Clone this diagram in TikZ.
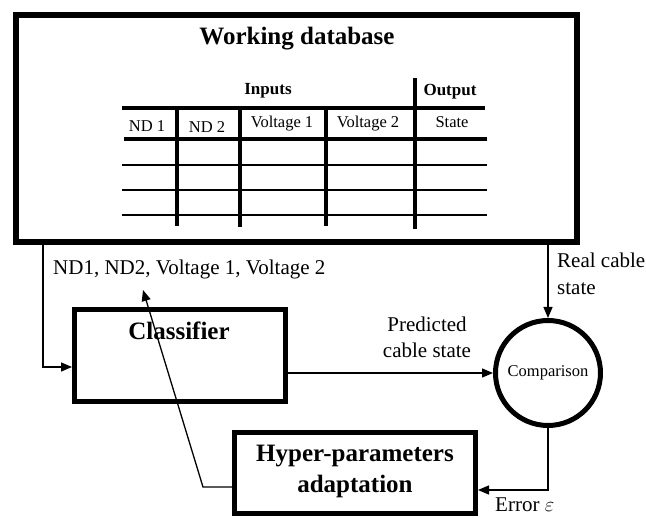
\documentclass[tikz,border=0pt]{standalone}
\usepackage{fontspec}
\setmainfont{Liberation Serif}
\usetikzlibrary{arrows.meta,shapes.geometric}
\tikzset{
  thickbox/.style={draw, line width=5pt, inner sep=0pt},
  conn/.style={line width=1.3pt, -{Triangle[length=11pt,width=9pt]}},
  tbig/.style={line width=4pt},
  tsmall/.style={line width=2.3pt},
  lbl/.style={inner sep=0pt, anchor=base, font=\fontsize{21}{25}\selectfont},
  lblw/.style={inner sep=0pt, anchor=base west, font=\fontsize{21}{25}\selectfont},
  cell/.style={inner sep=0pt, anchor=base, font=\fontsize{16.5}{19}\selectfont},
  head/.style={inner sep=0pt, anchor=base, font=\fontsize{17}{20}\selectfont\bfseries},
  title/.style={inner sep=0pt, anchor=base, font=\fontsize{25}{31}\selectfont\bfseries}
}
\begin{document}
\begin{tikzpicture}[x=1pt,y=-1pt]
\useasboundingbox (0,0) rectangle (646,518);
% boxes
\node[thickbox, line width=6pt, minimum width=561pt, minimum height=227pt] (db) at (296.5,128.5) {};
\node[title] (dbt) at (297,45) {Working database};
\node[thickbox, minimum width=211pt, minimum height=92pt] (cls) at (180,355.5) {};
\node[title] (clst) at (179,340) {Classifier};
\node[thickbox, minimum width=241pt, minimum height=81pt] (hyp) at (355,473) {};
\node[title] (hypt) at (355,462) {Hyper-parameters};
\node[title] (hypt2) at (355,493) {adaptation};
\node[draw, circle, line width=5pt, minimum size=105pt, inner sep=0pt,
      font=\fontsize{16.5}{19}\selectfont] (cmp) at (548,373) {Comparison};
% table
\draw[tbig] (122,108) -- (485,108);
\draw[tbig] (124,139) -- (487,139);
\draw[tsmall] (122,165) -- (487,165);
\draw[tsmall] (122,190) -- (487,190);
\draw[tsmall] (122,215) -- (487,215);
\draw[tbig] (177,108) -- (177,226);
\draw[tbig] (240,108) -- (240,227);
\draw[tbig] (326,108) -- (326,226);
\draw[tbig] (415,78) -- (415,229);
\node[head] (hin) at (268,95) {Inputs};
\node[head] (hout) at (450,96) {Output};
\node[cell] (c1) at (147,132) {ND 1};
\node[cell] (c2) at (207,133) {ND 2};
\node[cell] (c3) at (282,128) {Voltage 1};
\node[cell] (c4) at (368,128) {Voltage 2};
\node[cell] (c5) at (452,128) {State};
% labels
\node[lblw] (lin) at (53,275) {ND1, ND2, Voltage 1, Voltage 2};
\node[lblw] (lreal) at (557,268) {Real cable};
\node[lblw] (lreal2) at (557,295) {state};
\node[lbl] (lpred) at (427,332) {Predicted};
\node[lbl] (lpred2) at (427,358) {cable state};
\node[lblw] (lerr) at (495,512) {Error $\varepsilon$};
% connectors
\coordinate (inc) at (43,367);
\draw[conn] (db.south -| inc) |- (cls.west |- inc);
\draw[conn] (cls.east |- cmp.west) -- (cmp.west);
\draw[conn] (db.south -| cmp.north) -- (cmp.north);
\coordinate (errc) at (548,490);
\draw[conn] (cmp.south) |- (hyp.east |- errc);
\coordinate (fbk) at (203,487);
\coordinate (fbt) at (143,290);
\draw[conn] (hyp.west |- fbk) -- (fbk) -- (fbt);
\end{tikzpicture}
\end{document}
